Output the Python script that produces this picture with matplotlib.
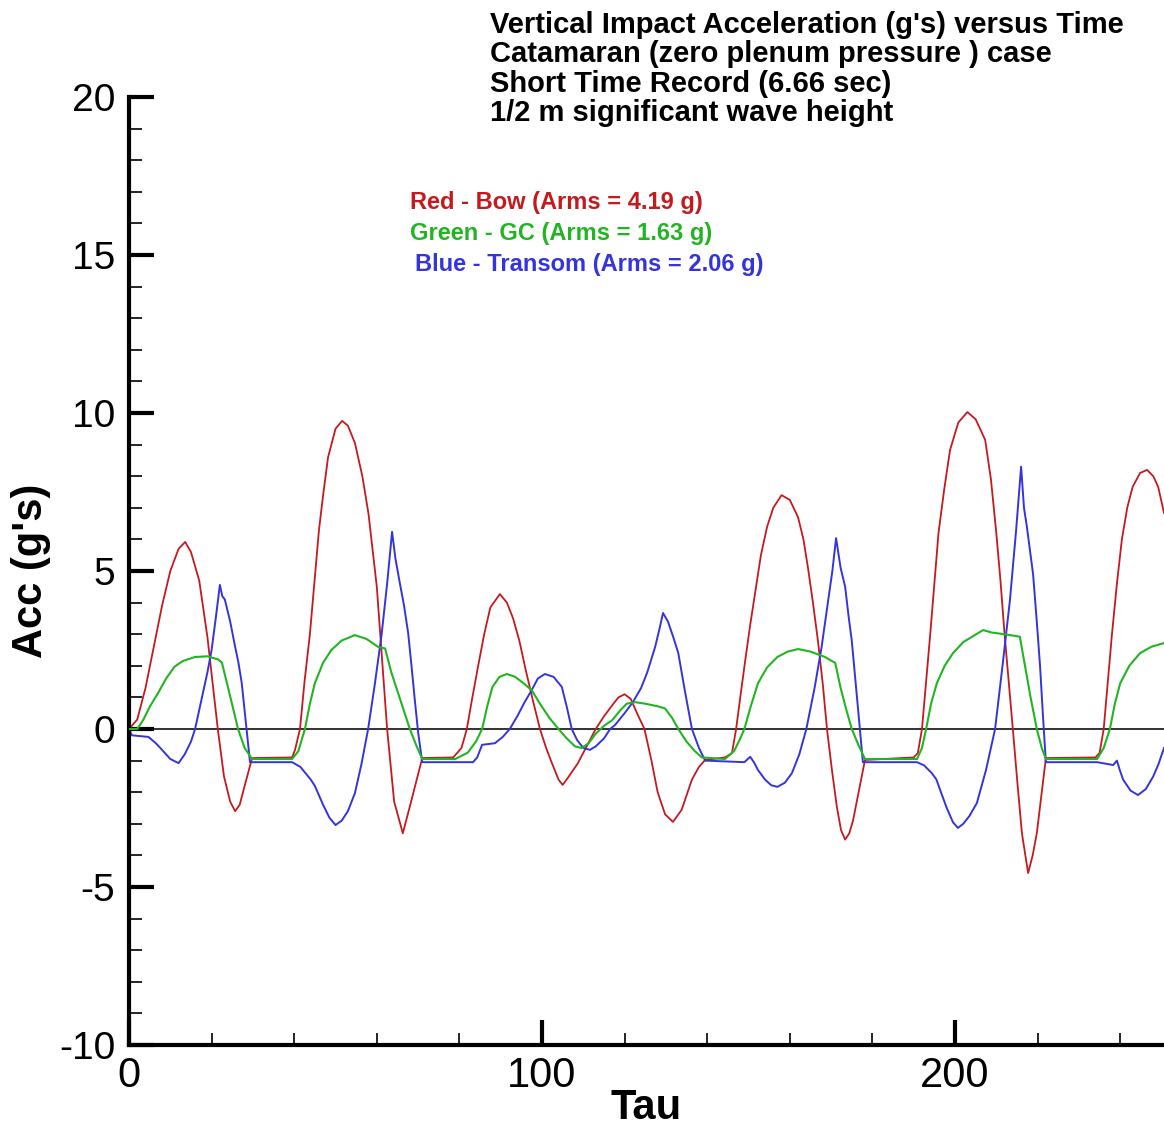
import matplotlib
matplotlib.use("Agg")
import matplotlib.pyplot as plt
from matplotlib.ticker import MultipleLocator, FixedLocator

plt.rcParams['font.family'] = ['Liberation Sans', 'DejaVu Sans']
plt.rcParams['axes.unicode_minus'] = False

# Bow (red)
tau_bow = [0, 2, 4, 6, 8, 10, 12, 13.6, 15, 17, 19, 21.5, 23, 24.5, 25.7, 26.8, 28, 29.8,
           39.5, 40.2, 41.4, 42.5, 43.8, 45, 46, 47, 48.2, 50, 51.6, 53, 54.7, 56.5, 58, 60,
           62.5, 64.2, 66.3, 68.3, 71,
           78.5, 80.5, 81.8, 83, 84.5, 86, 87.5, 89.8, 91.5, 93, 94.5, 96, 97.8, 99.5,
           101, 102.4, 104, 105, 106.5, 108.7, 111, 113, 115, 117, 118.5, 120, 121.5, 123,
           124.8, 126.5, 128, 129.8, 131.7, 133.8, 135, 136.3, 138, 139.5,
           144.3, 146, 147, 148, 149, 150.3, 151.6, 153, 154.5, 156, 158, 160, 162, 163.3,
           164.4, 165.6, 166.8, 168, 169, 170.2, 171.4, 172.4, 173.4, 174.4, 175.3, 176.8, 178.2,
           190, 191, 192, 193, 194, 195, 196, 197.4, 198.8, 200.8, 203, 205, 207.3, 208.7,
           210, 211, 212, 213, 214, 215.1, 216.2, 217.7, 218.8, 219.8, 221, 222,
           234, 235, 236, 237, 238, 239.2, 240.4, 241.7, 243, 244.8, 246.5, 248, 249.2, 250.6]
acc_bow = [0, 0.3, 1.3, 2.6, 3.9, 5.0, 5.7, 5.92, 5.6, 4.7, 2.9, 0, -1.5, -2.3, -2.6, -2.4, -1.8, -0.92,
           -0.9, -0.66, 0, 1.5, 3.0, 4.8, 6.3, 7.4, 8.6, 9.5, 9.75, 9.6, 9.05, 8.0, 6.8, 4.5,
           0, -2.3, -3.3, -2.3, -0.92,
           -0.9, -0.6, 0, 0.9, 1.97, 3.0, 3.85, 4.27, 4.0, 3.5, 2.8, 1.9, 0.9, 0,
           -0.6, -1.08, -1.6, -1.77, -1.5, -1.08, -0.5, 0, 0.4, 0.75, 1.0, 1.1, 0.95, 0.5,
           0, -1.0, -2.0, -2.7, -2.94, -2.56, -2.1, -1.6, -1.2, -0.98,
           -0.9, -0.76, 0, 1.0, 1.97, 3.2, 4.3, 5.5, 6.4, 7.0, 7.4, 7.25, 6.7, 6.0,
           5.1, 4.0, 2.8, 1.4, 0, -1.3, -2.47, -3.2, -3.5, -3.3, -2.9, -1.9, -0.98,
           -0.9, -0.76, 0, 1.5, 3.0, 4.6, 6.2, 7.6, 8.83, 9.7, 10.03, 9.8, 9.15, 7.9,
           6.2, 4.7, 3.0, 1.5, 0, -1.7, -3.3, -4.56, -4.0, -3.3, -2.0, -0.92,
           -0.9, -0.76, 0, 1.5, 3.0, 4.6, 6.0, 7.0, 7.66, 8.1, 8.2, 8.0, 7.66, 6.84]

# GC (green)
tau_gc = [0, 2, 3.5, 5, 7, 9, 11, 13, 16, 19, 21.6, 22.5, 24, 25.3, 26.4, 28, 29.8,
          39.5, 41, 42.6, 43.8, 45, 47, 49, 51.5, 54.7, 57.5, 60.3, 62, 63.5, 65, 66.5, 68, 69.5, 71,
          79, 82, 84, 85.5, 86.7, 88, 89.7, 91.5, 93.5, 95.5, 97.5, 99.5, 101.8, 104, 106, 108,
          109.6, 111.3, 113, 115, 117, 119, 120.5, 122.5, 125, 128, 129.8, 131.5, 133, 135, 137, 138.7,
          144.3, 146.5, 148, 149, 150.5, 152.3, 154.5, 157, 159.5, 162, 165, 168.5, 171, 172.3,
          173.7, 175, 176.6, 178.2,
          190.8, 192, 193, 194.2, 195.6, 197.5, 199.5, 202, 204.5, 206.8, 209, 212, 215.7, 216.8,
          218.3, 219.8, 221, 222,
          234.4, 236, 237.5, 238.7, 240, 242.2, 244.8, 247.5, 250.6]
acc_gc = [0, 0, 0.3, 0.7, 1.13, 1.6, 1.97, 2.15, 2.28, 2.3, 2.2, 2.1, 1.3, 0.6, 0, -0.6, -0.95,
          -0.95, -0.7, 0, 0.8, 1.45, 2.1, 2.5, 2.8, 2.97, 2.85, 2.6, 2.55, 1.8, 1.2, 0.6, 0, -0.5, -0.95,
          -0.95, -0.75, -0.4, 0, 0.7, 1.33, 1.65, 1.74, 1.65, 1.45, 1.23, 0.8, 0.35, 0, -0.3, -0.55,
          -0.6, -0.45, -0.15, 0.1, 0.28, 0.6, 0.8, 0.85, 0.8, 0.72, 0.65, 0.35, 0, -0.4, -0.7, -0.9,
          -0.95, -0.7, -0.3, 0, 0.7, 1.45, 1.95, 2.28, 2.45, 2.53, 2.45, 2.28, 2.09, 1.3,
          0.6, 0, -0.5, -0.95,
          -0.95, -0.6, 0, 0.8, 1.45, 2.0, 2.4, 2.75, 2.95, 3.13, 3.05, 3.0, 2.92, 2.1,
          1.0, 0, -0.6, -0.95,
          -0.95, -0.6, 0, 0.8, 1.45, 2.0, 2.4, 2.6, 2.72]

# Transom (blue)
tau_tr = [0, 0.7, 4.7, 6.5, 8, 10, 12, 13.5, 15, 16, 17.5, 19, 20, 21, 22, 22.6, 23.2, 24.5,
          25.7, 26.5, 27.3, 28.3, 29.3,
          39.5, 41.5, 43.4, 44, 45, 47, 48.5, 50, 51.5, 53, 54.7, 56.3, 57.9, 59.5, 61.2, 62.5,
          63.7, 64.5, 65.6, 66.6, 67.6, 68.4, 69.2, 70, 71,
          83.3, 84.3, 85.5, 88.6, 90.5, 92.2, 94, 95.8, 97.5, 99, 100.7, 102.8, 104.8, 106,
          107.2, 108.5, 110, 111.6, 113, 115, 116.5, 117.7, 120, 122, 124, 125.5, 127.4, 128.5,
          129.3, 130.5, 131.8, 133, 134.6, 136.3, 138, 139.5,
          149, 150.4, 151.3, 152.3, 154, 155.5, 157, 158.8, 160.5, 162.3, 164, 166, 167.7,
          169, 170.3, 171.2, 172.3, 173.4, 174.2, 175, 176.4, 177.7,
          190.8, 192.5, 194.4, 195.5, 196.4, 198, 199.5, 200.7, 202, 203.5, 205.3, 207.5,
          209.7, 211.5, 213.3, 214.8, 216, 216.7, 217.4, 218.9, 219.8, 220.6, 221.3, 222,
          234.4, 236.5, 238.3, 239.2, 239.9, 240.7, 242.5, 244.3, 246.2, 248, 249.3, 250.6]
acc_tr = [0, -0.2, -0.25, -0.45, -0.66, -0.95, -1.08, -0.8, -0.4, 0, 0.9, 1.8, 2.5, 3.5, 4.56, 4.2, 4.1, 3.4,
          2.6, 2.1, 1.45, 0.2, -1.05,
          -1.05, -1.2, -1.5, -1.6, -1.8, -2.4, -2.8, -3.04, -2.9, -2.6, -2.03, -1.1, 0, 1.4, 3.03, 4.6,
          6.24, 5.4, 4.6, 3.9, 3.03, 2.0, 0.92, -0.1, -1.05,
          -1.05, -0.9, -0.5, -0.45, -0.25, 0, 0.4, 0.85, 1.23, 1.6, 1.74, 1.65, 1.33, 0.7,
          0, -0.35, -0.6, -0.66, -0.55, -0.3, 0, 0.13, 0.5, 0.85, 1.3, 1.8, 2.6, 3.2,
          3.67, 3.4, 2.9, 2.4, 1.2, 0, -0.6, -1.0,
          -1.05, -0.88, -1.05, -1.3, -1.6, -1.78, -1.83, -1.7, -1.4, -0.8, 0, 1.3, 2.6,
          3.8, 5.0, 6.04, 5.1, 4.5, 3.6, 2.8, 0.8, -1.05,
          -1.05, -1.15, -1.4, -1.6, -1.93, -2.5, -2.95, -3.13, -3.0, -2.75, -2.34, -1.3,
          0, 2.0, 4.08, 6.3, 8.3, 7.0, 6.4, 4.9, 3.4, 1.97, 0.4, -1.05,
          -1.05, -1.1, -1.14, -1.0, -1.3, -1.6, -1.95, -2.09, -1.9, -1.5, -1.1, -0.6]

title_lines = ["Vertical Impact Acceleration (g's) versus Time",
               "Catamaran (zero plenum pressure ) case",
               "Short Time Record (6.66 sec)",
               "1/2 m significant wave height"]
legend_lines = ["Red - Bow (Arms = 4.19 g)",
                "Green - GC (Arms = 1.63 g)",
                "Blue - Transom (Arms = 2.06 g)"]
legend_colors = ["#c41a1e", "#22b422", "#3434dc"]

fig = plt.figure(figsize=(11.64, 11.27), dpi=100)
ax = fig.add_axes([129/1164, 1 - 1045/1127, (1164 - 129)/1164, 948/1127])

ax.axhline(0, color='#222222', lw=1.3, zorder=1)
ax.plot(tau_bow, acc_bow, color=legend_colors[0], lw=1.3, zorder=2)
ax.plot(tau_gc, acc_gc, color=legend_colors[1], lw=1.5, zorder=3)
ax.plot(tau_tr, acc_tr, color=legend_colors[2], lw=1.4, zorder=2)

ax.set_xlim(0, 250.6)
ax.set_ylim(-10, 20)
for s in ['top', 'right']:
    ax.spines[s].set_visible(False)
for s in ['left', 'bottom']:
    ax.spines[s].set_linewidth(3)
ax.xaxis.set_major_locator(MultipleLocator(100))
ax.xaxis.set_minor_locator(FixedLocator([t for t in range(20, 260, 20) if t % 100]))
ax.yaxis.set_major_locator(MultipleLocator(5))
ax.yaxis.set_minor_locator(MultipleLocator(1))
ax.tick_params(which='major', direction='in', length=18, width=3, labelsize=28, pad=10)
ax.tick_params(which='minor', direction='in', length=9, width=1.2)
ax.tick_params(axis='x', which='major', labelsize=30, pad=8)

ax.set_xlabel("Tau", fontsize=30, fontweight='bold', labelpad=-6)
ax.set_ylabel("Acc (g's)", fontsize=30, fontweight='bold', labelpad=6)

title_base = [33, 62, 92, 121]
for txt, yb in zip(title_lines, title_base):
    fig.text(490/1164, 1 - yb/1127, txt, fontsize=21, fontweight='bold',
             va='baseline', ha='left')
for i, (txt, col) in enumerate(zip(legend_lines, legend_colors)):
    x0 = 410 if i < 2 else 415
    fig.text(x0/1164, 1 - (202 + 31.5*i)/1127, txt, color=col, fontsize=17,
             fontweight='bold', va='center', ha='left')

fig.savefig("out.png", dpi=100)
